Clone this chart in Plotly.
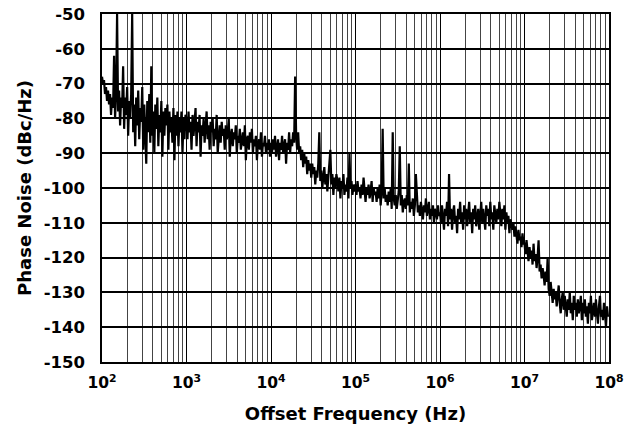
import plotly.graph_objects as go

# Phase noise readings, 84 samples per decade (log-spaced sweep)
dec_1e2 = [-68, -70, -69, -73, -71, -75, -72, -76, -73, -79, -74, -77, -62, -80, -73, -50, -78, -72, -82, -74,
           -77, -65, -83, -74, -79, -71, -85, -75, -80, -73, -50, -84, -76, -88, -74, -82, -72, -86, -77, -81,
           -71, -89, -76, -83, -93, -75, -84, -73, -87, -65, -85, -78, -90, -76, -83, -74, -88, -79, -84, -75,
           -91, -78, -85, -77, -82, -76, -89, -78, -84, -80, -87, -77, -92, -79, -85, -78, -88, -80, -84, -78,
           -90, -80, -86, -79]
dec_1e3 = [-80, -86, -78, -84, -81, -89, -79, -85, -82, -77, -88, -81, -84, -79, -91, -82, -85, -80, -87, -83,
           -78, -86, -82, -89, -81, -84, -80, -88, -83, -86, -79, -90, -84, -82, -87, -81, -85, -83, -89, -82,
           -86, -84, -80, -91, -85, -83, -88, -84, -86, -82, -90, -85, -87, -83, -89, -86, -84, -88, -82, -92,
           -86, -85, -89, -84, -87, -83, -90, -86, -88, -85, -92, -87, -86, -89, -84, -91, -87, -88, -85, -90,
           -87, -89, -86, -91]
dec_1e4 = [-87, -90, -86, -89, -85, -91, -88, -86, -92, -87, -89, -85, -90, -88, -86, -93, -87, -89, -84, -90,
           -86, -88, -84, -87, -68, -85, -89, -84, -90, -88, -92, -89, -94, -90, -93, -91, -96, -92, -95, -93,
           -97, -93, -96, -94, -99, -95, -97, -93, -84, -98, -95, -100, -96, -94, -99, -96, -101, -97, -95, -89,
           -99, -96, -102, -97, -100, -96, -98, -101, -97, -103, -98, -100, -96, -102, -99, -101, -97, -103, -90, -100,
           -98, -102, -99, -101]
dec_1e5 = [-99, -102, -98, -101, -100, -103, -99, -102, -97, -101, -104, -100, -102, -99, -103, -101, -98, -104, -100, -102,
           -101, -104, -100, -103, -99, -105, -101, -83, -103, -100, -104, -102, -105, -101, -104, -100, -106, -84, -103, -105,
           -102, -106, -103, -101, -88, -105, -102, -107, -104, -103, -106, -102, -105, -93, -107, -104, -106, -103, -108, -105,
           -96, -104, -107, -105, -108, -104, -106, -109, -105, -107, -103, -108, -106, -104, -109, -106, -108, -105, -110, -106,
           -107, -109, -105, -108]
dec_1e6 = [-107, -110, -105, -109, -112, -106, -108, -104, -111, -96, -109, -106, -112, -107, -105, -110, -108, -113, -106, -109,
           -104, -110, -107, -112, -105, -109, -106, -111, -108, -104, -110, -107, -113, -106, -109, -105, -111, -108, -106, -112,
           -107, -104, -110, -106, -109, -112, -105, -108, -106, -111, -104, -109, -107, -112, -105, -108, -110, -106, -109, -104,
           -108, -111, -106, -109, -105, -112, -107, -110, -108, -113, -109, -111, -112, -110, -114, -111, -113, -116, -112, -115,
           -114, -117, -113, -116]
dec_1e7 = [-116, -119, -115, -118, -121, -117, -120, -118, -122, -116, -121, -119, -123, -120, -115, -124, -122, -126, -123, -125,
           -128, -124, -127, -120, -129, -131, -127, -130, -133, -129, -132, -130, -134, -131, -128, -133, -136, -132, -130, -135,
           -131, -134, -137, -132, -135, -130, -136, -133, -138, -131, -135, -133, -137, -132, -136, -134, -131, -138, -133, -136,
           -132, -137, -134, -139, -133, -136, -131, -138, -135, -133, -137, -132, -136, -139, -134, -131, -137, -135, -138, -133,
           -136, -140, -134, -137]

decades = [2, 3, 4, 5, 6, 7]
segments = [dec_1e2, dec_1e3, dec_1e4, dec_1e5, dec_1e6, dec_1e7]

x_tick_vals = [1e2, 1e3, 1e4, 1e5, 1e6, 1e7, 1e8]
x_tick_text = ["10<sup>2</sup>", "10<sup>3</sup>", "10<sup>4</sup>", "10<sup>5</sup>",
               "10<sup>6</sup>", "10<sup>7</sup>", "10<sup>8</sup>"]
y_tick_vals = [-150, -140, -130, -120, -110, -100, -90, -80, -70, -60, -50]
y_tick_text = ["-150", "-140", "-130", "-120", "-110", "-100", "-90", "-80", "-70", "-60", "-50"]

freq = []
noise = []
for d, seg in zip(decades, segments):
    n = len(seg)
    for i, v in enumerate(seg):
        freq.append(10 ** (d + i / n))
        noise.append(v)

FONT = "DejaVu Sans, Verdana, sans-serif"

fig = go.Figure()
fig.add_trace(go.Scatter(x=freq, y=noise, mode="lines",
                         line=dict(color="black", width=2.2), showlegend=False))

# page body adds an 8px offset; margins compensate
fig.update_layout(
    width=637, height=428,
    margin=dict(l=94, r=36, t=6, b=74),
    paper_bgcolor="white", plot_bgcolor="white",
    font=dict(family=FONT, color="black", size=15),
)
fig.update_xaxes(
    type="log", range=[2, 8], automargin=False, ticklabeloverflow="allow",
    tickvals=x_tick_vals, ticktext=x_tick_text,
    tickfont=dict(family=FONT, size=15.5, weight="bold"),
    showgrid=True, gridcolor="black", gridwidth=1,
    minor=dict(dtick="D1", showgrid=True, gridcolor="#444", gridwidth=1),
    showline=True, linecolor="black", linewidth=1.5, mirror=True,
    ticks="", ticklabelstandoff=6,
    title=dict(text="Offset Frequency (Hz)", font=dict(family=FONT, size=18, weight="bold"), standoff=16),
    zeroline=False,
)
fig.update_yaxes(
    range=[-150, -50], automargin=False, ticklabeloverflow="allow",
    tickvals=y_tick_vals, ticktext=y_tick_text,
    tickfont=dict(family=FONT, size=16.5, weight="bold"),
    showgrid=True, gridcolor="black", gridwidth=1.5,
    showline=True, linecolor="black", linewidth=1.5, mirror=True,
    ticks="", ticklabelstandoff=12,
    title=dict(text="Phase Noise (dBc/Hz)", font=dict(family=FONT, size=18, weight="bold"), standoff=7),
    zeroline=False,
)

fig.write_html("out.html")
